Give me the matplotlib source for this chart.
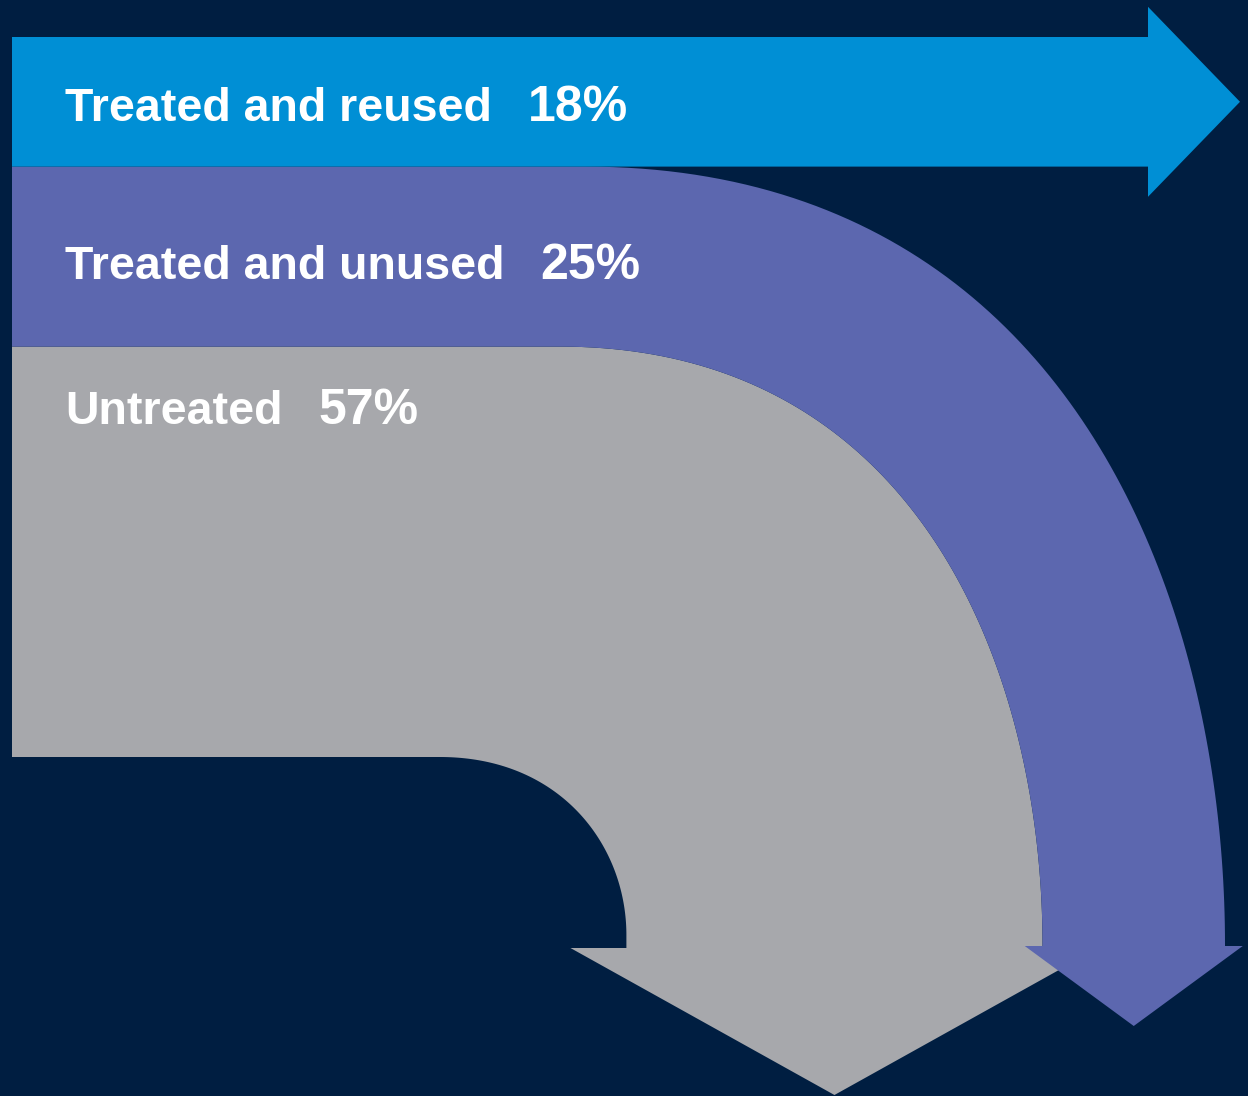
import numpy as np
import matplotlib.pyplot as plt
from matplotlib.patches import Polygon

# shares of wastewater
labels = ['Treated and reused', 'Treated and unused', 'Untreated']
shares = [18, 25, 57]
colors = ['#008fd5', '#5c67af', '#a7a8ac']
bg = '#001e41'

W, H = 1248, 1096
x_left = 12
y_top = 37
k = 7.2        # px per percent along the horizontal run
k_down = 7.3   # px per percent in the downward legs
x_right = 1225  # outer edge of the downward legs

# band edges on the left side
edges = [y_top]
for s in shares:
    edges.append(edges[-1] + s * k)
y_blue0, y_blue1, y_purp1, y_gray1 = edges

# downward leg edges
x_purp_r = x_right
x_purp_l = x_purp_r - shares[1] * k_down
x_gray_l = x_purp_l - shares[2] * k_down


def bend(x0, y0, x1, y1, a=0.75, b=0.45, n=100):
    # cubic bezier leaving (x0, y0) horizontally and arriving at (x1, y1) vertically
    t = np.linspace(0, 1, n)[:, None]
    p0 = np.array([x0, y0])
    p1 = np.array([x0 + a * (x1 - x0), y0])
    p2 = np.array([x1, y1 - b * (y1 - y0)])
    p3 = np.array([x1, y1])
    pts = ((1 - t) ** 3 * p0 + 3 * (1 - t) ** 2 * t * p1
           + 3 * (1 - t) * t ** 2 * p2 + t ** 3 * p3)
    return [tuple(p) for p in pts]


fig = plt.figure(figsize=(W / 100, H / 100), dpi=100, facecolor=bg)
ax = fig.add_axes([0, 0, 1, 1])
ax.set_xlim(0, W)
ax.set_ylim(H, 0)
ax.axis('off')
ax.set_facecolor(bg)

# untreated: wide band turning down
head_y = 948
cx = (x_gray_l + x_purp_l) / 2
gray = [(x_left, y_purp1)]
gray += bend(560, y_purp1, x_purp_l, 945)
gray += [(x_purp_l, head_y), (cx + 264, head_y), (cx, head_y + 147),
         (cx - 264, head_y), (x_gray_l, head_y), (x_gray_l, 935)]
gray += bend(440, y_gray1, x_gray_l, 935, a=0.65, b=0.5)[::-1]
gray += [(x_left, y_gray1)]
ax.add_patch(Polygon(gray, closed=True, fc=colors[2], ec='none'))

# treated and unused
head_y = 946
cx = (x_purp_l + x_purp_r) / 2
purp = [(x_left, y_blue1)]
purp += bend(585, y_blue1, x_purp_r, 945)
purp += [(x_purp_r, head_y), (cx + 109, head_y), (cx, head_y + 80),
         (cx - 109, head_y), (x_purp_l, head_y)]
purp += bend(560, y_purp1, x_purp_l, 945)[::-1]
purp += [(x_left, y_purp1)]
ax.add_patch(Polygon(purp, closed=True, fc=colors[1], ec='none'))

# treated and reused: straight arrow to the right
yc = (y_blue0 + y_blue1) / 2
blue = [(x_left, y_blue0), (1148, y_blue0), (1148, yc - 95), (1240, yc),
        (1148, yc + 95), (1148, y_blue1), (x_left, y_blue1)]
ax.add_patch(Polygon(blue, closed=True, fc=colors[0], ec='none'))

# labels
label_y = [121, 279, 424]
for name, s, y in zip(labels, shares, label_y):
    t = ax.text(65, y, name, color='white', fontsize=33.5, fontweight='bold',
                family='Liberation Sans', va='baseline', ha='left')
    ax.annotate(f'{s}%', xy=(1, 0), xycoords=t, xytext=(26, 0),
                textcoords='offset points', color='white', fontsize=36,
                fontweight='bold', family='Liberation Sans',
                va='bottom', ha='left')

fig.savefig('out.png', dpi=100, facecolor=bg)
